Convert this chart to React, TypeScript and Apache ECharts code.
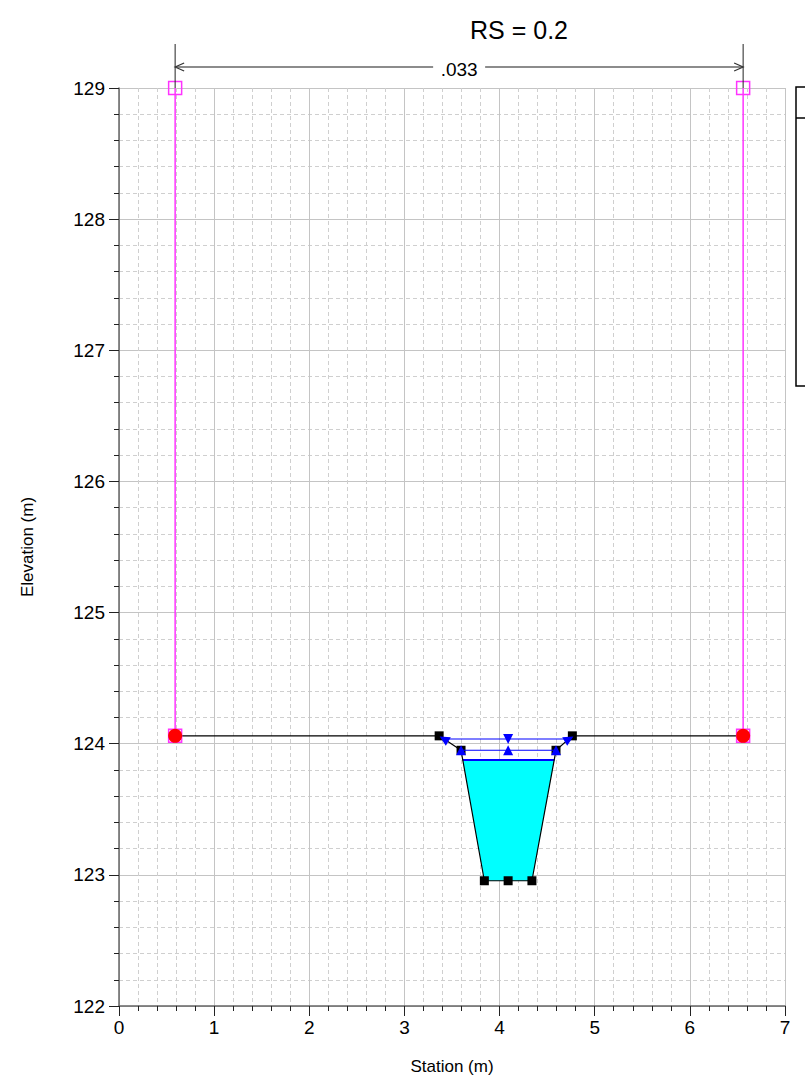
import React, { useEffect, useRef } from "react";
import * as echarts from "echarts";

const titleText = "RS = 0.2";
const nValueText = ".033";
const xAxisName = "Station (m)";
const yAxisName = "Elevation (m)";

const groundStation = [0.59, 3.365, 3.595, 3.84, 4.09, 4.34, 4.593, 4.765, 6.56];
const groundElev = [124.06, 124.06, 123.95, 122.955, 122.955, 122.955, 123.95, 124.06, 124.06];
const groundMarker = [false, true, true, true, true, true, true, true, false];

const bankStation = [0.59, 6.56];
const bankElev = [124.06, 124.06];
const leveeTopElev = 129;

const waterStation = [3.613, 3.84, 4.09, 4.34, 4.576];
const waterElev = [123.876, 122.955, 122.955, 122.955, 123.876];

const wsStation = [3.613, 4.576];
const wsElev = [123.876, 123.876];

const egStation = [3.416, 4.09, 4.73];
const egElev = [124.036, 124.036, 124.036];
const egRotate = [60, 180, -60];

const critStation = [3.595, 4.09, 4.593];
const critElev = [123.95, 123.95, 123.95];

const FONT = "'Liberation Sans', Arial, sans-serif";

export default function App() {
  const ref = useRef<HTMLDivElement>(null);
  useEffect(() => {
    if (!ref.current) return;
    const chart = echarts.init(ref.current, undefined, { renderer: "svg" });

    const axisCommon = {
      type: "value" as const,
      interval: 1,
      axisLine: { show: true, onZero: false, lineStyle: { color: "#666", width: 1.5 } },
      axisTick: { show: true, inside: false, length: 10, lineStyle: { color: "#222" } },
      minorTick: { show: true, splitNumber: 5, length: 5, lineStyle: { color: "#222" } },
      splitLine: { show: true, lineStyle: { color: "#c4c4c4", width: 1 } },
      minorSplitLine: { show: true, lineStyle: { color: "#cfcfcf", width: 1, type: [4, 3] } },
      axisLabel: { color: "#000", fontSize: 19, fontFamily: FONT },
      nameTextStyle: { color: "#000", fontSize: 17, fontFamily: FONT },
      nameLocation: "middle" as const,
    };

    const leveeSeries = bankStation.map((s, i) => ({
      type: "line",
      data: [
        { value: [s, leveeTopElev] },
        { value: [s, bankElev[i]] },
      ],
      lineStyle: { color: "#ff33ff", width: 1.5 },
      symbol: "rect",
      symbolSize: 13,
      itemStyle: { color: "rgba(0,0,0,0)", borderColor: "#ff33ff", borderWidth: 1.5 },
      z: 3,
    }));

    chart.setOption({
      animation: false,
      backgroundColor: "#fff",
      grid: { left: 119, right: 20, top: 88, bottom: 81, containLabel: false },
      xAxis: {
        ...axisCommon,
        min: 0,
        max: 7,
        name: xAxisName,
        nameGap: 52,
        axisLabel: { ...axisCommon.axisLabel, margin: 12 },
      },
      yAxis: {
        ...axisCommon,
        min: 122,
        max: 129,
        name: yAxisName,
        nameGap: 83,
        axisLabel: { ...axisCommon.axisLabel, margin: 14 },
      },
      graphic: [
        {
          type: "text",
          x: 519,
          y: 30,
          style: { text: titleText, fontSize: 25, fontFamily: FONT, fill: "#000", textAlign: "center", textVerticalAlign: "middle" },
        },
        {
          type: "rect",
          shape: { x: 796, y: 87, width: 30, height: 299 },
          style: { fill: "#fff", stroke: "#000", lineWidth: 1.5 },
        },
        {
          type: "line",
          shape: { x1: 796, y1: 118, x2: 830, y2: 118 },
          style: { stroke: "#000", lineWidth: 1.5 },
        },
      ],
      series: [
        {
          type: "custom",
          name: "water",
          data: waterStation.map((s, i) => [s, waterElev[i]]),
          renderItem: (params: any, api: any) => {
            if (params.dataIndex !== 0) return null;
            const pts = waterStation.map((s, i) => api.coord([s, waterElev[i]]));
            return { type: "polygon", shape: { points: pts }, style: { fill: "#00ffff", stroke: "none" } };
          },
          z: 1,
        },
        {
          type: "line",
          name: "WS",
          data: wsStation.map((s, i) => [s, wsElev[i]]),
          symbol: "none",
          lineStyle: { color: "#0000ff", width: 2 },
          z: 2,
        },
        {
          type: "line",
          name: "Ground",
          data: groundStation.map((s, i) => ({
            value: [s, groundElev[i]],
            symbol: groundMarker[i] ? "rect" : "none",
          })),
          symbolSize: 9,
          itemStyle: { color: "#000" },
          lineStyle: { color: "#000", width: 1.2 },
          z: 3,
        },
        ...leveeSeries,
        {
          type: "scatter",
          name: "Bank Sta",
          data: bankStation.map((s, i) => [s, bankElev[i]]),
          symbol: "circle",
          symbolSize: 14,
          itemStyle: { color: "#ff0000", opacity: 1 },
          z: 4,
        },
        {
          type: "line",
          name: "EG",
          data: egStation.map((s, i) => ({ value: [s, egElev[i]], symbolRotate: egRotate[i] })),
          symbol: "triangle",
          symbolSize: 10,
          itemStyle: { color: "#0000ff" },
          lineStyle: { color: "#0000ff", width: 1.2 },
          z: 5,
        },
        {
          type: "line",
          name: "Crit",
          data: critStation.map((s, i) => [s, critElev[i]]),
          symbol: "triangle",
          symbolSize: 10,
          itemStyle: { color: "#0000ff" },
          lineStyle: { color: "#0000ff", width: 1.2 },
          z: 5,
        },
        {
          type: "custom",
          name: "n-value",
          data: [[bankStation[0], leveeTopElev, bankStation[1]]],
          encode: { x: [0, 2], y: 1 },
          clip: false,
          renderItem: (params: any, api: any) => {
            const p1 = api.coord([api.value(0), api.value(1)]);
            const p2 = api.coord([api.value(2), api.value(1)]);
            const top = p1[1] - 44;
            const ly = p1[1] - 21;
            const cx = (p1[0] + p2[0]) / 2;
            const gap = 26;
            const col = "#666";
            return {
              type: "group",
              children: [
                { type: "line", shape: { x1: p1[0], y1: top, x2: p1[0], y2: p1[1] }, style: { stroke: "#222", lineWidth: 1 } },
                { type: "line", shape: { x1: p2[0], y1: top, x2: p2[0], y2: p2[1] }, style: { stroke: "#222", lineWidth: 1 } },
                { type: "line", shape: { x1: p1[0], y1: ly, x2: cx - gap, y2: ly }, style: { stroke: col, lineWidth: 1.5 } },
                { type: "line", shape: { x1: cx + gap, y1: ly, x2: p2[0], y2: ly }, style: { stroke: col, lineWidth: 1.5 } },
                { type: "polyline", shape: { points: [[p1[0] + 9, ly - 4], [p1[0], ly], [p1[0] + 9, ly + 4]] }, style: { stroke: "#333", lineWidth: 1.2, fill: "none" } },
                { type: "polyline", shape: { points: [[p2[0] - 9, ly - 4], [p2[0], ly], [p2[0] - 9, ly + 4]] }, style: { stroke: "#333", lineWidth: 1.2, fill: "none" } },
                { type: "text", x: cx, y: ly + 2, style: { text: nValueText, fontSize: 19, fontFamily: FONT, fill: "#000", textAlign: "center", textVerticalAlign: "middle" } },
              ],
            };
          },
          z: 6,
        },
      ],
    });
    return () => chart.dispose();
  }, []);
  return <div ref={ref} style={{ position: "absolute", left: 0, top: 0, width: 805, height: 1087 }} />;
}
